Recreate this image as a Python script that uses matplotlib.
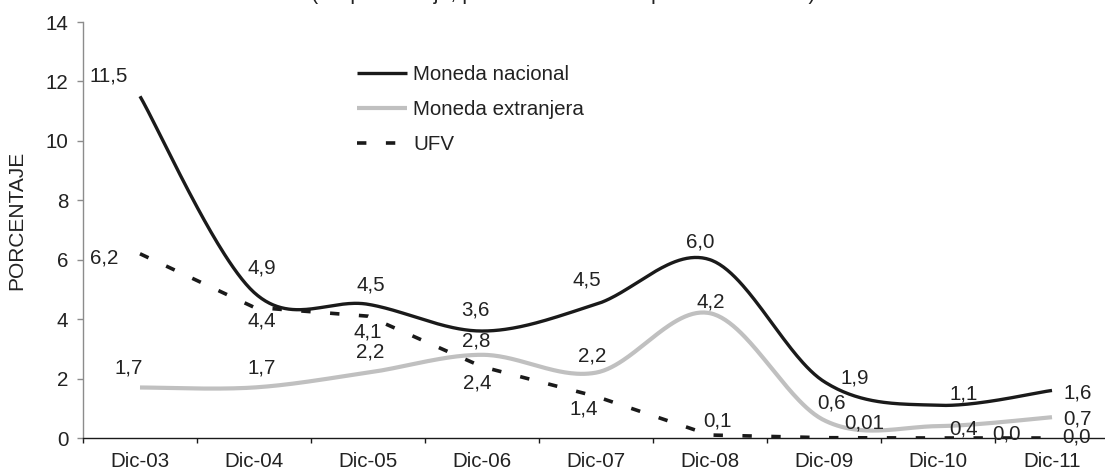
import numpy as np
import matplotlib
matplotlib.use("Agg")
import matplotlib.pyplot as plt
from matplotlib.lines import Line2D

plt.rcParams['font.family'] = ['Liberation Sans', 'DejaVu Sans']

# ---- data -------------------------------------------------------------
categories = ["Dic-03", "Dic-04", "Dic-05", "Dic-06", "Dic-07",
              "Dic-08", "Dic-09", "Dic-10", "Dic-11"]
moneda_nacional = [11.5, 4.9, 4.5, 3.6, 4.5, 6.0, 1.9, 1.1, 1.6]
moneda_extranjera = [1.7, 1.7, 2.2, 2.8, 2.2, 4.2, 0.6, 0.4, 0.7]
ufv = [6.2, 4.4, 4.1, 2.4, 1.4, 0.1, 0.01, 0.0, 0.0]
ufv_labels = ["6,2", "4,4", "4,1", "2,4", "1,4", "0,1", "0,01", "0,0", "0,0"]
yticks = [0, 2, 4, 6, 8, 10, 12, 14]

# label offsets (pixels) from each point
mn_off = [(-31, 20), (8, 24), (3, 19), (-7, 21), (-9, 24), (-10, 18),
          (31, 4), (26, 11), (26, -3)]
me_off = [(-11, 19), (8, 19), (2, 21), (-6, 14), (-4, 17), (1, 11),
          (7, 17), (26, -3), (25, -2)]
ufv_off = [(-36, -4), (8, -14), (0, -16), (-5, -16), (-12, -13), (8, 14),
           (40, 15), (69, 4), (25, 1)]


def smooth(xs, ys, n=60):
    """Bezier smoothing through the points (Catmull-Rom style tangents)."""
    pts = np.column_stack([xs, ys]).astype(float)
    out = []
    t = np.linspace(0, 1, n)[:, None]
    for i in range(len(pts) - 1):
        p0 = pts[i - 1] if i > 0 else pts[i]
        p1, p2 = pts[i], pts[i + 1]
        p3 = pts[i + 2] if i + 2 < len(pts) else pts[i + 1]
        c1 = p1 + (p2 - p0) / 6.0
        c2 = p2 - (p3 - p1) / 6.0
        seg = ((1 - t) ** 3 * p1 + 3 * (1 - t) ** 2 * t * c1
               + 3 * (1 - t) * t ** 2 * c2 + t ** 3 * p2)
        out.append(seg if i == 0 else seg[1:])
    s = np.vstack(out)
    return s[:, 0], s[:, 1]


def fmt(v):
    return f"{v:.1f}".replace(".", ",")


W, H = 1105, 470
fig = plt.figure(figsize=(W / 100, H / 100), dpi=100)
ax = fig.add_axes([83 / W, 32 / H, 1026 / W, 416 / H])

x = np.arange(len(categories))
txt = "#222222"
black = "#1a1a1a"
grey = "#c0c0c0"
dash = (2.6, 5.4)

sx, sy = smooth(x, moneda_nacional)
ax.plot(sx, sy, color=black, lw=2.4, solid_capstyle="butt", zorder=3)
sx, sy = smooth(x, moneda_extranjera)
ax.plot(sx, sy, color=grey, lw=3.0, solid_capstyle="butt", zorder=3)
ax.plot(x, ufv, color=black, lw=2.6, dashes=dash,
        dash_capstyle="butt", zorder=4)

fs = 14.8
for xi, v, (dx, dy) in zip(x, moneda_nacional, mn_off):
    ax.annotate(fmt(v), (xi, v), xytext=(dx, dy), textcoords="offset pixels",
                ha="center", va="center", fontsize=fs, color=txt, zorder=5)
for xi, v, (dx, dy) in zip(x, moneda_extranjera, me_off):
    ax.annotate(fmt(v), (xi, v), xytext=(dx, dy), textcoords="offset pixels",
                ha="center", va="center", fontsize=fs, color=txt, zorder=5)
for xi, v, lab, (dx, dy) in zip(x, ufv, ufv_labels, ufv_off):
    ax.annotate(lab, (xi, v), xytext=(dx, dy), textcoords="offset pixels",
                ha="center", va="center", fontsize=fs, color=txt, zorder=5)

ax.set_xlim(-0.5, len(categories) - 0.5)
ax.set_ylim(0, 14)
ax.set_yticks(yticks)
ax.set_yticklabels([str(v) for v in yticks])
ax.set_xticks(np.arange(-0.5, len(categories), 1.0))
ax.set_xticklabels([])
ax.set_xticks(x, minor=True)
ax.set_xticklabels(categories, minor=True)
ax.tick_params(axis="x", which="major", direction="out", length=3.5,
               width=1, color=black)
ax.tick_params(axis="x", which="minor", length=0, pad=10,
               labelsize=fs, labelcolor=txt)
ax.tick_params(axis="y", direction="out", length=4.5, width=1,
               color="#8c8c8c", pad=6, labelsize=fs, labelcolor=txt)

for side in ("top", "right"):
    ax.spines[side].set_visible(False)
ax.spines["left"].set_color("#8c8c8c")
ax.spines["left"].set_linewidth(1.0)
ax.spines["bottom"].set_color(black)
ax.spines["bottom"].set_linewidth(1.0)

ax.set_ylabel("PORCENTAJE", fontsize=15, color=txt)
ax.yaxis.set_label_coords(-0.055, 0.524)

handles = [
    Line2D([], [], color=black, lw=2.4, solid_capstyle="butt"),
    Line2D([], [], color=grey, lw=3.0, solid_capstyle="butt"),
    Line2D([], [], color=black, lw=2.6, dashes=dash,
           dash_capstyle="butt"),
]
leg = ax.legend(handles, ["Moneda nacional", "Moneda extranjera", "UFV"],
                loc="upper left", bbox_to_anchor=(357 / W, 1 - 65 / H),
                bbox_transform=fig.transFigure, frameon=False,
                fontsize=fs, handlelength=2.43, handletextpad=0.29,
                labelspacing=0.78, borderpad=0, borderaxespad=0)
for t in leg.get_texts():
    t.set_color(txt)

fig.text(563 / W, 1 + 1 / H, "(En porcentaje, promedio anual del periodo indicado)",
         ha="center", va="baseline", fontsize=15.5, color=txt)

fig.savefig("out.png", dpi=100)
